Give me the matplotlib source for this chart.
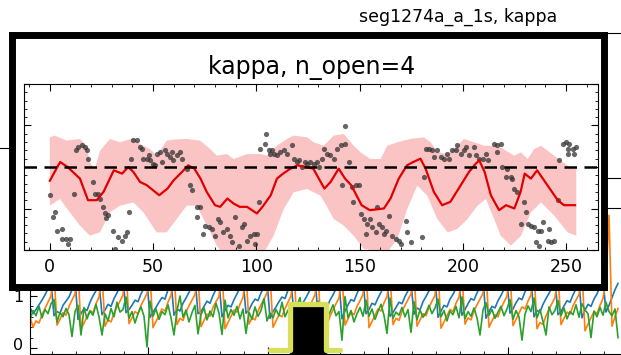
import numpy as np
import matplotlib.pyplot as plt
from matplotlib.lines import Line2D
from matplotlib.transforms import ScaledTranslation

# ---- background panel: three traces (197 samples, 0.75 time units apart) ----
blue = [0.78, 0.66, 0.74, 0.83, 0.92, 1.02, 1.14, 1.28,
        0.62, 0.70, 0.67, 0.82, 0.90, 0.98, 1.12, 1.31,
        0.55, 0.66, 0.76, 0.72, 0.88, 1.00, 1.10, 1.26,
        0.64, 0.73, 0.84, 0.80, 0.95, 1.06, 1.18, 1.34,
        0.68, 0.74, 0.82, 0.92, 0.89, 1.04, 1.15, 1.29,
        0.59, 0.69, 0.78, 0.88, 0.97, 0.94, 1.12, 1.30,
        0.63, 0.75, 0.71, 0.86, 0.96, 1.07, 1.20, 1.35,
        0.66, 0.70, 0.80, 0.90, 0.86, 1.01, 1.13, 1.27,
        0.60, 0.72, 0.82, 0.79, 0.93, 1.04, 1.17, 1.32,
        0.67, 0.73, 0.85, 0.94, 0.91, 1.06, 1.16, 1.30,
        0.57, 0.70, 0.79, 0.89, 0.98, 0.95, 1.11, 1.28,
        0.64, 0.76, 0.72, 0.87, 0.97, 1.08, 1.21, 1.36,
        0.62, 0.69, 0.81, 0.78, 0.92, 1.02, 1.14, 1.26,
        0.56, 0.71, 0.83, 0.93, 0.90, 1.05, 1.17, 1.31,
        0.66, 0.74, 0.86, 0.83, 0.96, 1.07, 1.20, 1.34,
        0.61, 0.68, 0.78, 0.88, 0.85, 0.99, 1.10, 1.25,
        0.65, 0.77, 0.73, 0.89, 0.99, 1.10, 1.23, 1.38,
        0.59, 0.71, 0.82, 0.79, 0.94, 1.03, 1.15, 1.29,
        0.63, 0.74, 0.85, 0.95, 0.92, 1.06, 1.18, 1.33,
        0.57, 0.70, 0.80, 0.77, 0.91, 1.01, 1.13, 1.27,
        0.67, 0.75, 0.87, 0.96, 0.93, 1.08, 1.21, 1.35,
        0.60, 0.72, 0.69, 0.84, 0.95, 1.05, 1.17, 1.31,
        0.64, 0.70, 0.81, 0.91, 0.88, 1.02, 1.14, 1.26,
        0.58, 0.73, 0.84, 0.80, 0.94, 1.04, 1.18, 1.32,
        0.69, 0.82, 0.97, 1.12, 1.24]
orange = [0.60, 0.40, 0.52, 0.48, 0.64, 0.76, 0.88, 1.00,
          1.45, 0.44, 0.55, 0.68, 0.63, 0.80, 0.92, 1.04,
          1.50, 0.36, 0.48, 0.60, 0.72, 0.68, 0.85, 0.98,
          1.40, 0.42, 0.54, 0.50, 0.67, 0.79, 0.90, 1.02,
          1.55, 0.47, 0.58, 0.70, 0.66, 0.82, 0.93, 1.05,
          1.42, 0.39, 0.51, 0.63, 0.75, 0.71, 0.88, 1.01,
          1.48, 0.45, 0.57, 0.53, 0.69, 0.81, 0.92, 1.03,
          1.38, 0.41, 0.53, 0.65, 0.61, 0.78, 0.89, 0.99,
          1.52, 0.37, 0.49, 0.61, 0.73, 0.69, 0.84, 0.97,
          1.44, 0.46, 0.58, 0.54, 0.71, 0.83, 0.94, 1.06,
          1.40, 0.40, 0.52, 0.64, 0.60, 0.76, 0.88, 1.00,
          1.50, 0.43, 0.55, 0.67, 0.79, 0.74, 0.90, 1.02,
          1.46, 0.35, 0.47, 0.44, 0.61, 0.73, 0.85, 0.96,
          1.42, 0.44, 0.56, 0.68, 0.64, 0.80, 0.91, 1.03,
          1.55, 0.39, 0.51, 0.63, 0.75, 0.71, 0.87, 0.99,
          1.41, 0.45, 0.57, 0.53, 0.70, 0.82, 0.93, 1.04,
          1.47, 0.42, 0.54, 0.66, 0.62, 0.78, 0.90, 1.01,
          1.53, 0.38, 0.50, 0.62, 0.74, 0.70, 0.86, 0.98,
          1.39, 0.46, 0.58, 0.54, 0.71, 0.83, 0.94, 1.05,
          1.49, 0.40, 0.52, 0.64, 0.60, 0.77, 0.88, 1.00,
          1.44, 0.43, 0.55, 0.67, 0.79, 0.75, 0.90, 1.02,
          1.51, 0.37, 0.49, 0.45, 0.62, 0.74, 0.86, 0.97,
          1.40, 0.45, 0.57, 0.69, 0.65, 0.81, 0.92, 1.03,
          1.46, 0.33, 0.46, 0.58, 0.70, 0.66, 0.82, 0.95,
          1.30, 2.55, 0.42, 0.60, 0.76]
green = [0.55, 0.72, 0.62, 0.80, 0.58, 0.74, 0.66, 0.85,
         0.93, 0.50, 0.68, 0.60, 0.76, 0.64, 0.22, 0.70,
         0.82, 0.25, 0.78, 0.56, 0.71, 0.63, 0.84, 0.60,
         0.25, 0.66, 0.52, 0.76, 0.60, 0.88, 0.69, 0.74,
         0.98, 0.57, 0.70, 0.48, 0.66, 0.79, 0.61, 0.02,
         0.90, 0.61, 0.75, 0.55, 0.70, 0.64, 0.83, 0.58,
         0.25, 0.72, 1.00, 0.59, 0.73, 0.50, 0.68, 0.82,
         0.27, 0.64, 0.77, 0.54, 0.71, 0.60, 0.86, 0.67,
         0.26, 0.92, 0.58, 0.74, 0.63, 0.80, 0.56, 0.75,
         0.28, 0.69, 0.55, 0.79, 0.61, 0.72, 0.95, 0.52,
         0.67, 0.58, 0.74, 0.62, 0.88, 0.60, 0.73, 0.49,
         0.70, 0.81, 0.97, 0.56, 0.71, 0.62, 0.53, 0.76,
         0.90, 0.64, 0.76, 0.57, 0.69, 0.83, 0.62, 0.70,
         0.15, 0.99, 0.58, 0.72, 0.50, 0.66, 0.78, 0.61,
         0.92, 0.61, 0.75, 0.55, 0.70, 0.84, 0.63, 0.28,
         0.96, 0.57, 0.69, 0.63, 0.78, 0.60, 0.74, 0.30,
         0.89, 0.54, 0.73, 0.59, 0.68, 0.82, 0.66, 0.77,
         0.94, 0.60, 0.72, 0.52, 0.71, 0.64, 0.80, 0.58,
         0.98, 0.56, 0.70, 0.61, 0.77, 0.58, 0.25, 0.73,
         0.87, 0.63, 0.74, 0.57, 0.69, 0.80, 0.62, 0.75,
         0.93, 0.55, 0.72, 0.60, 0.15, 0.65, 0.81, 0.70,
         0.96, 0.58, 0.74, 0.51, 0.25, 0.79, 0.64, 0.72,
         0.91, 0.62, 0.77, 0.56, 0.70, 0.64, 0.83, 0.59,
         0.85, 0.73, 0.66, 0.20, 0.71, 0.60, 0.78, 0.63,
         0.88, 0.70, 0.62, 0.75, 0.20]
pulse_x = [60.6, 65.6, 65.6, 74.4, 74.4, 78.1]
pulse_y = [-0.04, -0.04, 0.84, 0.84, -0.04, -0.04]

# ---- inset: kappa, n_open=4 ----
red_x = [0, 5, 8.6, 14.6, 18.5, 22.7, 26, 31, 35, 38, 40.5, 43.7, 47, 53, 57, 60, 64, 67, 70, 73,
         76, 80, 82.5, 86, 89, 92, 95.5, 100.3, 103, 107, 110, 113, 116.5, 120, 124, 127.6, 133, 136,
         139.9, 143, 146, 151, 155, 161.8, 165, 169, 173, 176, 179.5, 182, 186, 190, 194, 199, 203,
         206.3, 208, 210.6, 213.6, 217.6, 221, 225, 228, 230, 233, 236, 241, 246, 249, 254.4]
red_y = [0.417, 0.53, 0.50, 0.43, 0.30, 0.30, 0.35, 0.48, 0.46, 0.50, 0.47, 0.41, 0.39, 0.33, 0.37,
         0.42, 0.47, 0.51, 0.49, 0.43, 0.35, 0.27, 0.26, 0.31, 0.28, 0.26, 0.26, 0.22, 0.26, 0.33,
         0.43, 0.46, 0.49, 0.51, 0.50, 0.49, 0.37, 0.41, 0.49, 0.43, 0.39, 0.27, 0.24, 0.25, 0.31,
         0.43, 0.51, 0.53, 0.55, 0.49, 0.35, 0.27, 0.29, 0.39, 0.47, 0.52, 0.54, 0.47, 0.33, 0.24,
         0.27, 0.25, 0.35, 0.46, 0.43, 0.48, 0.39, 0.30, 0.27, 0.27]
band_up_x = [0, 2.4, 8.1, 14.6, 17.8, 19.4, 21.8, 24.3, 29.1, 34, 40.5, 43.7, 48.5, 51.8, 56.6,
             59.9, 66.3, 72.8, 77.7, 80.9, 85.8, 89, 95.5, 101.9, 105.2, 110, 114.9, 118.1, 124.6,
             127.8, 132.7, 137.5, 142.4, 147.2, 150.5, 155.3, 160.2, 163.4, 168.3, 174.8, 181.2,
             184.5, 187.7, 192.6, 197.4, 200.6, 205.5, 210.4, 213.6, 218.4, 224.9, 228.2, 231.4,
             234.6, 237.9, 244.3, 250.8, 255]
band_up_y = [0.679, 0.689, 0.659, 0.669, 0.628, 0.528, 0.488, 0.598, 0.669, 0.649, 0.673, 0.639,
             0.608, 0.568, 0.659, 0.665, 0.669, 0.659, 0.608, 0.568, 0.578, 0.548, 0.578, 0.578,
             0.568, 0.628, 0.669, 0.689, 0.679, 0.649, 0.628, 0.689, 0.699, 0.628, 0.588, 0.548,
             0.548, 0.628, 0.649, 0.669, 0.679, 0.649, 0.588, 0.578, 0.628, 0.669, 0.649, 0.628,
             0.628, 0.618, 0.568, 0.588, 0.548, 0.608, 0.628, 0.568, 0.508, 0.488]
band_lo_x = [0, 4.9, 9.7, 14.6, 19.4, 24.3, 29.1, 34, 40.5, 45.3, 51.8, 56.6, 61.5, 66.3, 71.2,
             76.1, 80.9, 85.8, 101.9, 108.4, 113.3, 118.1, 124.6, 131.1, 134, 137.5, 142.4, 147.2,
             152.1, 163.4, 168.3, 173.1, 178, 182.8, 187.7, 192.6, 197.4, 202.3, 207.1, 211.2,
             215.2, 218.4, 223.3, 228.2, 233, 237.9, 244.3, 250.8, 255]
band_lo_y = [0.267, 0.307, 0.227, 0.147, 0.086, 0.106, 0.227, 0.267, 0.287, 0.227, 0.106, 0.106,
             0.187, 0.267, 0.267, 0.147, 0.026, -0.054, -0.054, 0.086, 0.247, 0.347, 0.368, 0.327,
             0.267, 0.187, 0.147, 0.086, 0.006, -0.014, 0.066, 0.247, 0.388, 0.327, 0.187, 0.106,
             0.127, 0.187, 0.267, 0.307, 0.187, 0.086, 0.026, 0.086, 0.227, 0.287, 0.207, 0.106,
             0.086]
dots_x = [0.3, 1.6, 2.4, 3.6, 5.7, 5.7, 8, 9.7, 8.9, 11.7, 12.6, 13.8, 15.4, 17, 17.9, 18.6, 20.7,
          21.8, 23.5, 24.3, 25.6, 26.7, 27.2, 28.3, 30.7, 33.2, 34.8, 36.4, 37.2, 31.6, 38.5, 39.3,
          40.4, 42, 43.7, 44.5, 45.3, 47, 47.8, 48.6, 50.2, 51, 51.8, 53.4, 54.2, 55.8, 56.6, 58.3,
          59.1, 59.9, 61.5, 63.1, 64, 66.3, 68, 68.8, 71.2, 72.8, 71.2, 75.2, 76.9, 78.5, 74.4,
          80.1, 81.7, 82.5, 84.1, 85.7, 87.4, 88.2, 89.8, 91.4, 93, 93.9, 95.5, 97.1, 98.7, 99.6,
          100.4, 101.1, 101.9, 104.3, 104.9, 106, 107.6, 106.8, 108.4, 110, 111.7, 113.3, 114.9,
          117.3, 118.1, 119.7, 120.6, 122.2, 123.8, 124.6, 126.2, 127.8, 129.4, 130.3,
          131.9, 132.7, 134.3, 135.9, 137.6, 139.2, 140.8, 143.2, 144.8, 143.2, 141.6, 146.5,
          148.1, 149.7, 147, 150.5, 152.1, 153.7, 152.9, 155.3, 156.2, 157.8, 159.4, 158.6, 161,
          161.8, 162.6, 164.2, 165.9, 167.5, 169.1, 169.9, 172.3, 173.1, 174.8, 180.4, 181.2, 182,
          183.7, 185.3, 186.1, 187.7, 189.3, 191, 192.6, 193.4, 195, 196.6, 197.4, 199, 200.6,
          201.5, 203.1, 205.5, 206.3, 207.9, 209.6, 211.2, 212, 215.2, 216.8, 218.4, 216.8, 219.2,
          221.6, 220.8, 223.3, 224, 224.9, 226.5, 228.1, 229.8, 230.6, 231.4, 233, 234.6, 236.2,
          235.4, 237, 238.7, 237.9, 241.9, 241.1, 242.7, 244.3, 245.9, 246.7, 248.4, 250, 251.6,
          250.8, 253.2, 254.8, 254, 250.8]
dots_y = [0.33, 0.20, 0.227, 0.116, 0.127, 0.066, 0.066, 0.066, 0.036, 0.34, 0.60, 0.62, 0.63,
          0.62, 0.60, 0.548, 0.41, 0.34, 0.34, 0.31, 0.257, 0.22, 0.19, 0.21, 0.116, 0.076, 0.056,
          0.086, 0.11, 0.006, 0.23, 0.55, 0.66, 0.66, 0.62, 0.61, 0.55, 0.55, 0.57, 0.54, 0.52,
          0.51, 0.578, 0.59, 0.53, 0.60, 0.58, 0.56, 0.59, 0.54, 0.57, 0.59, 0.55, 0.488, 0.39,
          0.36, 0.257, 0.257, 0.197, 0.146, 0.136, 0.126, 0.096, 0.086, 0.187, 0.167, 0.106,
          0.126, 0.086, 0.046, 0.197, 0.026, 0.136, 0.156, 0.056, 0.086, 0.096, 0.036, 0.096,
          0.287, 0.608, 0.64, 0.70, 0.60, 0.60, 0.58, 0.58, 0.57, 0.59, 0.60, 0.58, 0.63, 0.55,
          0.53, 0.54, 0.50, 0.53, 0.52, 0.53, 0.52, 0.53, 0.50,
          0.55, 0.608, 0.58, 0.57, 0.55, 0.61, 0.63, 0.64, 0.53, 0.749, 0.39, 0.38, 0.39, 0.39,
          0.29, 0.217, 0.187, 0.157, 0.096, 0.187, 0.137, 0.106, 0.157, 0.257, 0.137, 0.096,
          0.117, 0.207, 0.086, 0.066, 0.056, 0.036, 0.177, 0.106, 0.046, 0.076, 0.44, 0.608,
          0.608, 0.60, 0.56, 0.60, 0.56, 0.55, 0.58, 0.55, 0.60, 0.60, 0.63, 0.58, 0.60, 0.62,
          0.57, 0.62, 0.57, 0.55, 0.55, 0.58, 0.54, 0.64, 0.63, 0.64, 0.59, 0.50, 0.49, 0.44,
          0.44, 0.43, 0.37, 0.35, 0.157, 0.29, 0.227, 0.157, 0.147, 0.137, 0.117, 0.046, 0.026,
          0.167, 0.117, 0.127, 0.056, 0.046, 0.056, 0.30, 0.54, 0.64, 0.65, 0.64, 0.61, 0.61,
          0.62, 0.58, 0.58]
ref_level = 0.5

W, H = 621, 355
fig = plt.figure(figsize=(W / 100, H / 100), dpi=100)


def box(l, t, r, b):
    # pixel box -> figure fraction rect
    return [l / W, 1 - b / H, (r - l) / W, (b - t) / H]


# stray frame lines of the panels behind
for (x0, x1, y) in [(590, 621, 33), (590, 621, 178), (0, 20, 148)]:
    fig.add_artist(Line2D([x0 / W, x1 / W], [1 - y / H, 1 - y / H], color='k', lw=0.8, zorder=-1))
fig.text(458 / W, 1 - 17 / H, 'seg1274a_a_1s, kappa', ha='center', va='center', fontsize=12.5)

ax = fig.add_axes(box(30, 208, 621, 354))
t = 0.5 + 0.75 * np.arange(len(blue))
ax.plot(t, blue, color='#1f77b4', lw=1.2)
ax.plot(t, orange, color='#ff7f0e', lw=1.2)
ax.plot(t, green, color='#2ca02c', lw=1.2)
ax.fill_between(pulse_x[1:5], -0.3, pulse_y[1:5], color='k', zorder=4)
ax.plot(pulse_x, pulse_y, color='#d8e05a', lw=3.8, solid_joinstyle='round',
        solid_capstyle='round', zorder=5)
ax.set_xlim(0.5, 148.25)
ax.set_ylim(-0.115, 2.69)
ax.set_yticks([0, 1])
ax.set_yticks([0.2, 0.4, 0.6, 0.8], minor=True)
ax.set_xticks([30, 60, 90, 120])
ax.set_xticks(np.arange(6, 148, 6), minor=True)
ax.tick_params(which='both', direction='in', labelsize=11.5, labelbottom=False, pad=5)
ax.tick_params(which='major', length=5)
ax.tick_params(which='minor', length=2.5)
ax.spines['right'].set_visible(False)
# lift the "0" label a little so it stays inside the canvas
zero = ax.get_yticklabels()[0]
zero.set_transform(zero.get_transform() + ScaledTranslation(0, 0.04, fig.dpi_scale_trans))

# inset frame
fr = fig.add_axes(box(11.5, 34.5, 603.5, 286.5))
fr.set_xticks([])
fr.set_yticks([])
for s in fr.spines.values():
    s.set_linewidth(5)
fig.text(312 / W, 1 - 67 / H, 'kappa, n_open=4', ha='center', va='center', fontsize=17)

ai = fig.add_axes(box(24, 84, 598, 250))
ai.fill(np.concatenate([band_up_x, band_lo_x[::-1]]),
        np.concatenate([band_up_y, band_lo_y[::-1]]), color='#fbc4c4', lw=0, zorder=1)
ai.scatter(dots_x, dots_y, s=14, color='#333333', alpha=0.75, lw=0, zorder=2)
ai.plot(red_x, red_y, color='#e00000', lw=1.6, zorder=3)
ai.axhline(ref_level, color='k', ls=(0, (5, 3)), lw=1.8, zorder=4)
ai.set_xlim(-12.5, 265.5)
ai.set_ylim(0, 1)
ai.set_xticks(np.arange(0, 251, 50))
ai.set_xticks(np.arange(-10, 266, 10), minor=True)
ai.set_yticks(np.arange(0, 1.01, 0.25))
ai.set_yticks(np.arange(0, 1.01, 0.05), minor=True)
ai.tick_params(which='both', direction='in', top=True, right=True, labelleft=False,
               labelsize=12.5, pad=6)
ai.tick_params(which='major', length=5)
ai.tick_params(which='minor', length=2.5)

fig.savefig('out.png', dpi=100)
